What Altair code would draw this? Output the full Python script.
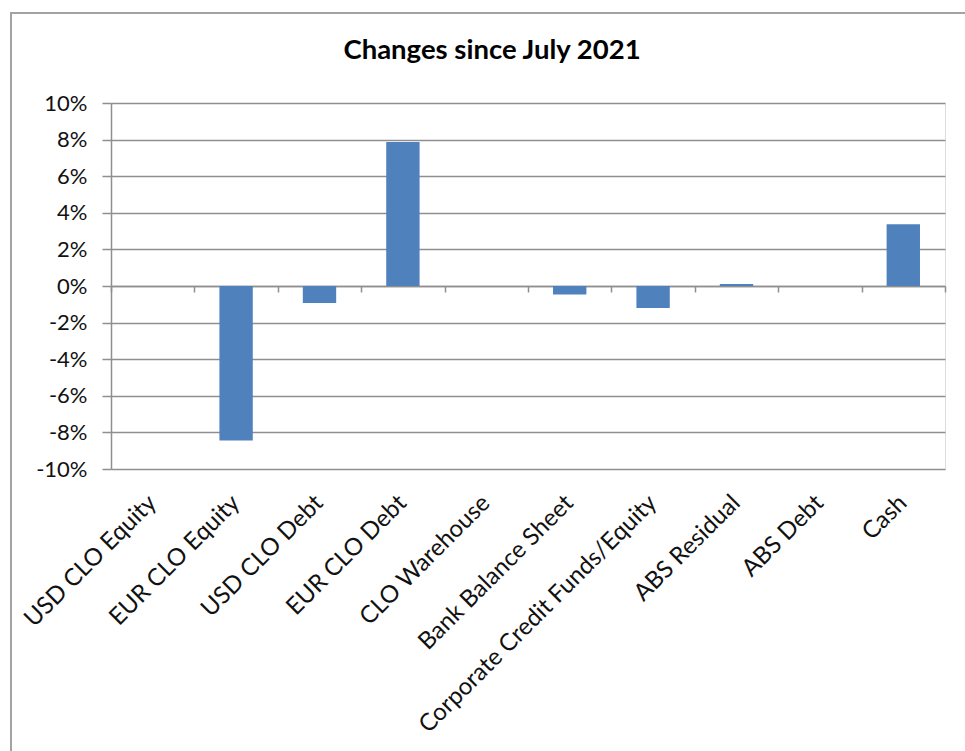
import altair as alt
import pandas as pd

# ---- data ----
categories = [
    "USD CLO Equity",
    "EUR CLO Equity",
    "USD CLO Debt",
    "EUR CLO Debt",
    "CLO Warehouse",
    "Bank Balance Sheet",
    "Corporate Credit Funds/Equity",
    "ABS Residual",
    "ABS Debt",
    "Cash",
]
changes = [0.0, -0.0844, -0.0093, 0.0787, 0.0, -0.0046, -0.0120, 0.0011, 0.0, 0.0337]
y_ticks = [-0.10, -0.08, -0.06, -0.04, -0.02, 0.0, 0.02, 0.04, 0.06, 0.08, 0.10]
chart_title = "Changes since July 2021"

df = pd.DataFrame({"category": categories, "change": changes})

FONT = "Lato"
GRID = "#8f8f8f"
BAR = "#4F81BD"
TEXT = "#111111"

x_scale = alt.Scale(domain=categories, paddingInner=0, paddingOuter=0)
y_scale = alt.Scale(domain=[-0.1, 0.1], nice=False, zero=False)

y_enc = alt.Y(
    "change:Q",
    scale=y_scale,
    title=None,
    axis=alt.Axis(
        values=y_ticks,
        labelExpr="(datum.value < -0.0001 ? '-' : '') + format(abs(datum.value), '.0%')",
        grid=True,
        gridColor=GRID,
        gridWidth=1.5,
        domain=True,
        domainColor=GRID,
        domainWidth=1.5,
        ticks=True,
        tickColor=GRID,
        tickWidth=1.5,
        tickSize=9,
        labelPadding=15,
        labelFont=FONT,
        labelFontSize=22,
        labelColor=TEXT,
    ),
)

bars = alt.Chart(df).mark_bar(color=BAR, width=alt.RelativeBandSize(0.4)).encode(
    x=alt.X(
        "category:N",
        sort=categories,
        scale=x_scale,
        title=None,
        axis=alt.Axis(
            labelAngle=-45,
            labelAlign="right",
            labelBaseline="middle",
            labelPadding=30,
            labelLimit=500,
            labelFont=FONT,
            labelFontSize=24,
            labelColor=TEXT,
            ticks=False,
            domain=False,
            grid=False,
        ),
    ),
    y=y_enc,
)

zero_axis = alt.Chart(df).mark_bar(opacity=0, width=alt.RelativeBandSize(0.4)).encode(
    x=alt.X(
        "category:N",
        sort=categories,
        scale=x_scale,
        title=None,
        axis=alt.Axis(
            orient="bottom",
            offset=-183,
            labels=False,
            ticks=True,
            tickBand="extent",
            tickSize=6,
            tickColor=GRID,
            tickWidth=1.5,
            domain=True,
            domainColor=GRID,
            domainWidth=1.5,
            grid=False,
        ),
    ),
    y=y_enc,
)

frame = alt.Chart(pd.DataFrame({"frame": [0]})).mark_rect(
    fillOpacity=0, stroke="#a3a3a3", strokeWidth=2
).encode(
    x=alt.value(-100),
    x2=alt.value(880),
    y=alt.value(-90),
    y2=alt.value(680),
)

title = alt.Chart(pd.DataFrame({"label": [chart_title]})).mark_text(
    font=FONT,
    fontSize=27.5,
    fontWeight="bold",
    color="#000000",
    align="center",
    baseline="alphabetic",
).encode(
    text="label:N",
    x=alt.value(381),
    y=alt.value(-44),
)

chart = (
    alt.layer(frame, bars, zero_axis, title)
    .resolve_axis(x="independent")
    .properties(
        width=834,
        height=366,
        padding={"left": 111, "top": 103, "right": 20, "bottom": 282},
        autosize="none",
    )
    .configure_view(stroke="transparent")
    .configure(background="white")
)

chart.save("out.html", embed_options={"renderer": "svg", "actions": False})
